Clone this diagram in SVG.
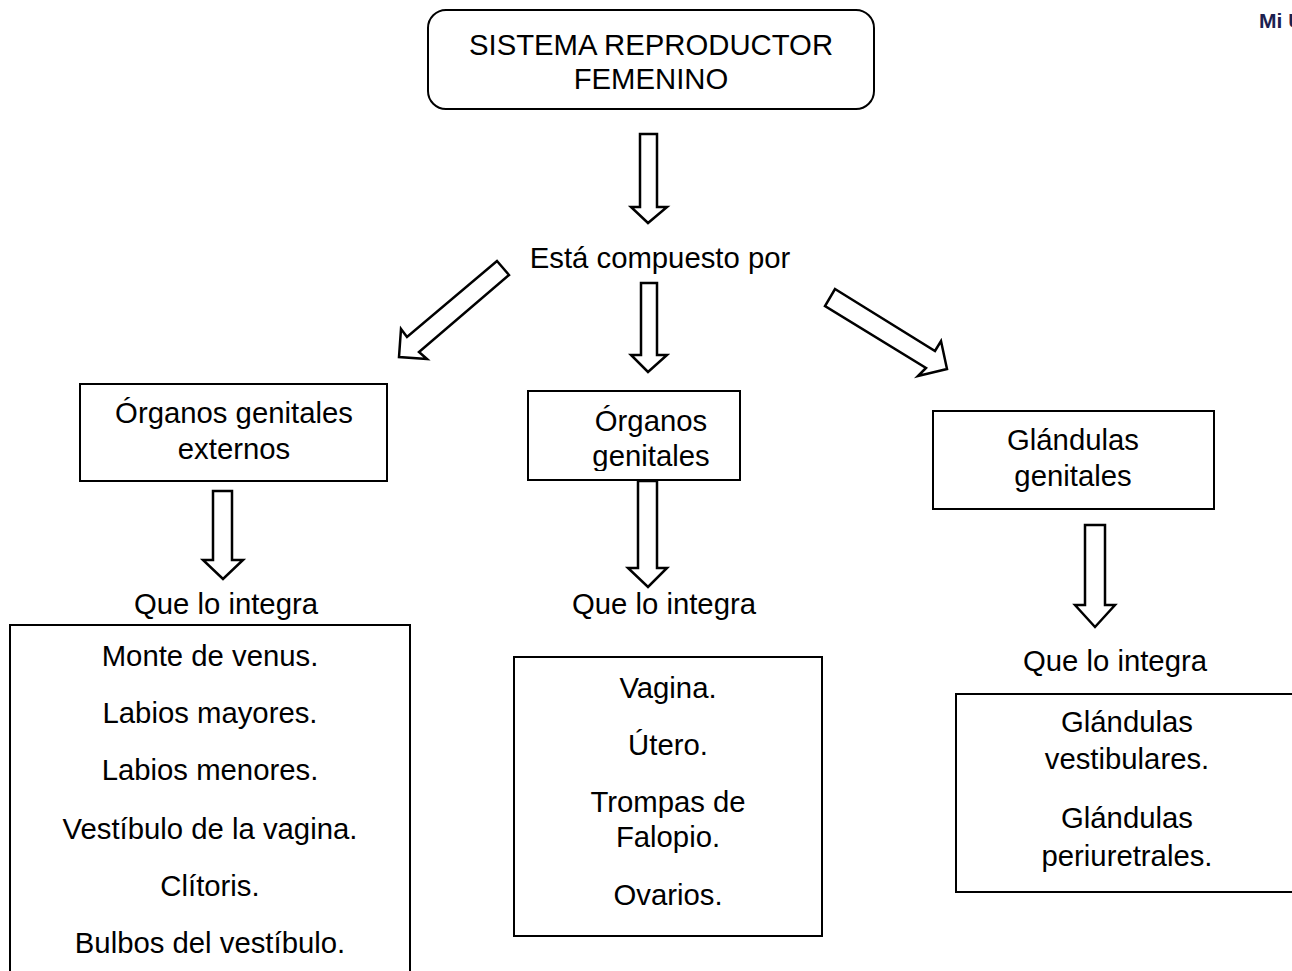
<svg xmlns="http://www.w3.org/2000/svg" width="1292" height="971" viewBox="0 0 1292 971">
<style>
.box{fill:#fff;stroke:#000;stroke-width:2}
.arr{fill:#fff;stroke:#000;stroke-width:2.5;stroke-linejoin:miter}
text{font-family:"Liberation Sans",Arial,sans-serif;font-size:29.3px;fill:#000;text-anchor:middle}
.logo{font-weight:bold;font-size:21px;fill:#1c2150;text-anchor:start}
</style>
<defs>
<clipPath id="clipMid"><rect x="528" y="391" width="212" height="80"/></clipPath>
</defs>
<rect width="1292" height="971" fill="#fff"/>
<text class="logo" x="1259" y="28">Mi U</text>

<g id="connectors">
<polygon class="arr" points="640,134 657,134 657,207 667,207 648,223 631,207 640,207"/>
<polygon class="arr" points="497,261 509,275 419,352 427,359 399,357 401,329 407,337"/>
<polygon class="arr" points="641,283 657,283 657,355 667,355 648,372 631,355 641,355"/>
<polygon class="arr" points="835,289 935,351 941,341 947,369 918,376 926,368 825,306"/>
<polygon class="arr" points="213,491 232,491 232,560 243,560 223,579 203,560 213,560"/>
<polygon class="arr" points="638,481 657,481 657,568 667,568 648,587 628,568 638,568"/>
<polygon class="arr" points="1085,525 1105,525 1105,605 1115,605 1095,627 1075,605 1085,605"/>
</g>

<g id="root">
<rect class="box" x="428" y="10" width="446" height="99" rx="18"/>
<text x="651" y="55">SISTEMA REPRODUCTOR</text>
<text x="651" y="89">FEMENINO</text>
</g>

<g id="compuesto">
<text x="660" y="268">Está compuesto por</text>
</g>

<g id="externos">
<rect class="box" x="80" y="384" width="307" height="97"/>
<text x="234" y="423">Órganos genitales</text>
<text x="234" y="459">externos</text>
</g>

<g id="genitales">
<rect class="box" x="528" y="391" width="212" height="89"/>
<g clip-path="url(#clipMid)">
<text x="651" y="431">Órganos</text>
<text x="651" y="466">genitales</text>
</g>
</g>

<g id="glandulas">
<rect class="box" x="933" y="411" width="281" height="98"/>
<text x="1073" y="450">Glándulas</text>
<text x="1073" y="486">genitales</text>
</g>

<g id="integra-left"><text x="226" y="614">Que lo integra</text></g>
<g id="integra-mid"><text x="664" y="614">Que lo integra</text></g>
<g id="integra-right"><text x="1115" y="671">Que lo integra</text></g>

<g id="list-externos">
<rect class="box" x="10" y="625" width="400" height="360"/>
<text x="210" y="666">Monte de venus.</text>
<text x="210" y="723">Labios mayores.</text>
<text x="210" y="780">Labios menores.</text>
<text x="210" y="839">Vestíbulo de la vagina.</text>
<text x="210" y="896">Clítoris.</text>
<text x="210" y="953">Bulbos del vestíbulo.</text>
</g>

<g id="list-genitales">
<rect class="box" x="514" y="657" width="308" height="279"/>
<text x="668" y="698">Vagina.</text>
<text x="668" y="755">Útero.</text>
<text x="668" y="812">Trompas de</text>
<text x="668" y="847">Falopio.</text>
<text x="668" y="905">Ovarios.</text>
</g>

<g id="list-glandulas">
<rect class="box" x="956" y="694" width="360" height="198"/>
<text x="1127" y="732">Glándulas</text>
<text x="1127" y="769">vestibulares.</text>
<text x="1127" y="828">Glándulas</text>
<text x="1127" y="866">periuretrales.</text>
</g>
</svg>
